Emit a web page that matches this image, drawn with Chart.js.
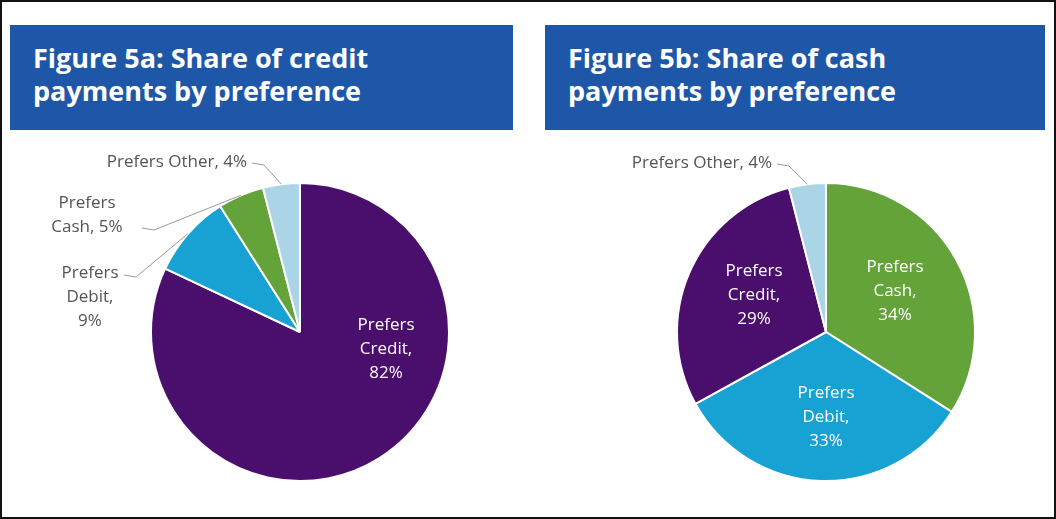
<!DOCTYPE html>
<html>
<head>
<meta charset="utf-8">
<script src="https://cdn.jsdelivr.net/npm/chart.js@4"></script>
<style>
  body { margin: 0; background: #fff; }
  #frame { position: absolute; left: 0; top: 0; width: 1052px; height: 515px; border: 2px solid #111; }
  .hdr { position: absolute; top: 25px; height: 105px; background: #1f57a8; color: #fff;
         font: bold 27px "Open Sans", Lato, sans-serif; line-height: 33px; box-sizing: border-box; padding: 16px 0 0 23px; }
  canvas { position: absolute; top: 135px; }
</style>
</head>
<body>
<div id="frame"></div>
<div class="hdr" style="left:10px;width:503px">Figure 5a: Share of credit<br>payments by preference</div>
<div class="hdr" style="left:545px;width:500px">Figure 5b: Share of cash<br>payments by preference</div>
<canvas id="pieA" width="503" height="370" style="left:10px;width:503px;height:370px"></canvas>
<canvas id="pieB" width="500" height="370" style="left:545px;width:500px;height:370px"></canvas>
<script>
var labelsA = ["Prefers Credit", "Prefers Debit", "Prefers Cash", "Prefers Other"];
var valuesA = [82, 9, 5, 4];
var colorsA = ["#4a0e6c", "#18a1d3", "#64a23a", "#abd5e7"];

var labelsB = ["Prefers Cash", "Prefers Debit", "Prefers Credit", "Prefers Other"];
var valuesB = [34, 33, 29, 4];
var colorsB = ["#64a23a", "#18a1d3", "#4a0e6c", "#abd5e7"];

var FONT = '17px "Open Sans", Lato, sans-serif';

// text: [index, lines, x, y (first line), color, align, leader end x, y]
var textA = [
    [0, ["Prefers", "Credit,", "82%"], 376, 190, "#fff", "center"],
    [3, ["Prefers Other, 4%"], 237, 27, "#555", "right", 242, 28],
    [2, ["Prefers", "Cash, 5%"], 77, 68, "#555", "center", 132, 93],
    [1, ["Prefers", "Debit,", "9%"], 80, 138, "#555", "center", 114, 140]
];
var textB = [
    [0, ["Prefers", "Cash,", "34%"], 350, 132, "#fff", "center"],
    [1, ["Prefers", "Debit,", "33%"], 281, 258, "#fff", "center"],
    [2, ["Prefers", "Credit,", "29%"], 209, 136, "#fff", "center"],
    [3, ["Prefers Other, 4%"], 227, 28, "#555", "right", 232, 29]
];

function labelPlugin(texts) {
    return {
        id: "labels",
        afterDraw: function (chart) {
            var ctx = chart.ctx;
            var arcs = chart.getDatasetMeta(0).data;
            ctx.save();
            ctx.font = FONT;
            ctx.textBaseline = "middle";
            for (var i = 0; i < texts.length; i++) {
                var t = texts[i];
                ctx.fillStyle = t[4];
                ctx.textAlign = t[5];
                for (var j = 0; j < t[1].length; j++) {
                    ctx.fillText(t[1][j], t[2], t[3] + j * 24);
                }
                if (t.length > 6) {
                    var a = arcs[t[0]];
                    var mid = (a.startAngle + a.endAngle) / 2;
                    var ex = a.x + Math.cos(mid) * a.outerRadius;
                    var ey = a.y + Math.sin(mid) * a.outerRadius;
                    ctx.strokeStyle = "#999";
                    ctx.lineWidth = 1;
                    ctx.beginPath();
                    ctx.moveTo(t[6], t[7]);
                    ctx.lineTo(t[6] + 12, t[7] + 2);
                    ctx.lineTo(ex, ey);
                    ctx.stroke();
                }
            }
            ctx.restore();
        }
    };
}

function makePie(id, labels, values, colors, pad, texts) {
    new Chart(document.getElementById(id), {
        type: "pie",
        data: {
            labels: labels,
            datasets: [{ data: values, backgroundColor: colors, borderColor: "#fff", borderWidth: 2 }]
        },
        options: {
            responsive: false,
            animation: false,
            layout: { padding: pad },
            plugins: { legend: { display: false }, tooltip: { enabled: false } }
        },
        plugins: [labelPlugin(texts)]
    });
}

makePie("pieA", labelsA, valuesA, colorsA, { left: 140, right: 63, top: 47, bottom: 23 }, textA);
makePie("pieB", labelsB, valuesB, colorsB, { left: 131, right: 69, top: 47, bottom: 23 }, textB);
</script>
</body>
</html>
